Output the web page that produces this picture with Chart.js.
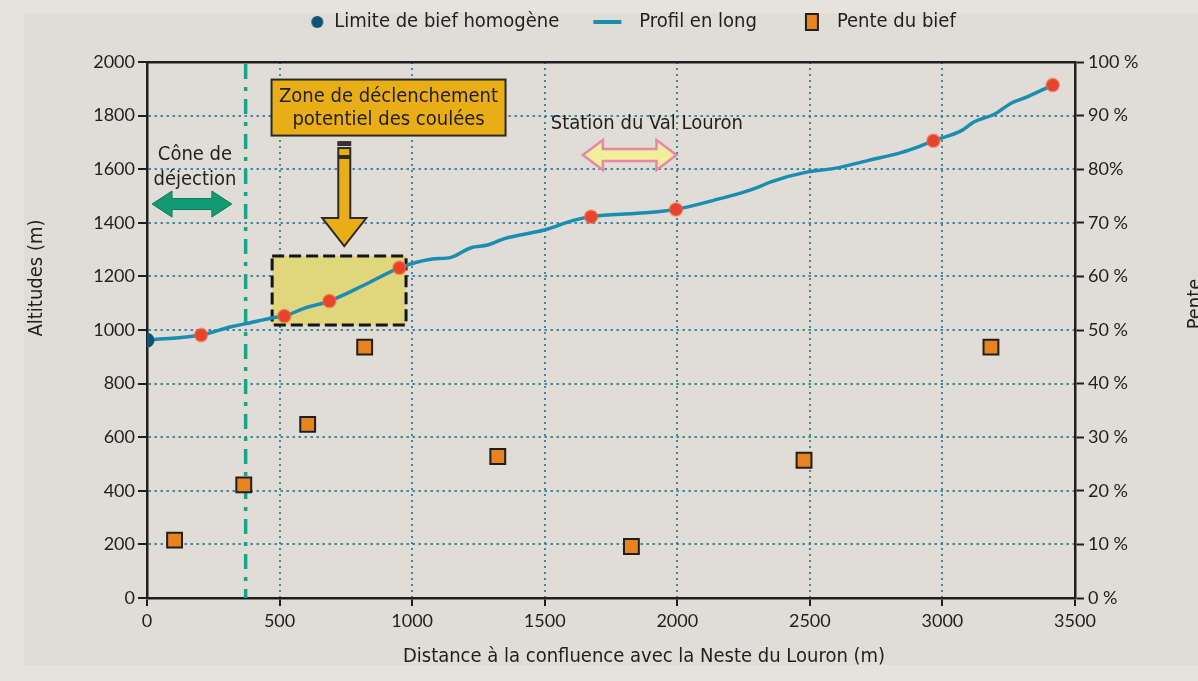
<!DOCTYPE html>
<html lang="fr">
<head>
<meta charset="utf-8">
<title>Profil en long du torrent</title>
<script src="https://cdn.jsdelivr.net/npm/chart.js@4.4.1/dist/chart.umd.min.js"></script>
<style>
  html, body { margin: 0; padding: 0; background: #e6e3dd; }
  #wrap { width: 1198px; height: 681px; }
</style>
</head>
<body>
<div id="wrap"><canvas id="profilChart" width="1198" height="681"></canvas></div>
<script>
// profil en long : distance a la confluence (m) / altitude (m)
const profilDistances = [0, 204, 317, 380, 480, 518, 593, 688, 820, 952, 1071, 1147, 1222, 1285, 1348, 1498, 1612, 1675, 1838, 1912, 1995, 2165, 2215, 2303, 2353, 2492, 2592, 2718, 2844, 2919, 2966, 3070, 3120, 3196, 3259, 3322, 3416];
const profilAltitudes = [962, 981, 1012, 1025, 1047, 1052, 1081, 1108, 1168, 1232, 1264, 1271, 1307, 1317, 1341, 1373, 1410, 1423, 1435, 1440, 1450, 1491, 1504, 1532, 1553, 1590, 1603, 1632, 1662, 1687, 1706, 1743, 1777, 1805, 1846, 1871, 1914];

// limites de bief homogene
const limiteDistances = [0, 204, 518, 688, 952, 1675, 1995, 2966, 3416];
const limiteAltitudes = [962, 981, 1052, 1108, 1232, 1423, 1450, 1706, 1914];

// pente de chaque bief (%), au milieu du bief
const penteDistances = [104, 365, 606, 821, 1323, 1827, 2478, 3183];
const pentes = [10.8, 21.1, 32.4, 46.8, 26.4, 9.6, 25.7, 46.8];

// graduations
const distanceTicks = [0, 500, 1000, 1500, 2000, 2500, 3000, 3500];
const altitudeTicks = [0, 200, 400, 600, 800, 1000, 1200, 1400, 1600, 1800, 2000];
const penteTicks = [0, 10, 20, 30, 40, 50, 60, 70, 80, 90, 100];
const penteTickLabels = ['0 %', '10 %', '20 %', '30 %', '40 %', '50 %', '60 %', '70 %', '80%', '90 %', '100 %'];

const legendLabels = ['Limite de bief homogène', 'Profil en long', 'Pente du bief'];

// reperes (dans les unites des axes)
const coneNote = { x: 181, yLines: [1653, 1560], text: ['Cône de', 'déjection'] };
const coneArrow = { x1: 19, x2: 320, y: 1470 };
const coneLimit = 372;
const zoneNote = { x: 911, y: 1830, yLines: [1869, 1784], text: ['Zone de déclenchement', 'potentiel des coulées'] };
const zoneArrow = { x: 744, yTop: 1705, yTip: 1313 };
const zoneBox = { x1: 472, x2: 977, y1: 1019, y2: 1276 };
const stationNote = { x: 1523, y: 1769, text: 'Station du Val Louron' };
const stationArrow = { x1: 1644, x2: 1997, y: 1653 };

const textFont = "'DejaVu Sans Condensed', 'Liberation Sans Narrow', sans-serif";
const tickFont = "Lato, 'Open Sans', sans-serif";
const ink = '#1f1f1f';
const gridColor = 'rgba(45, 118, 148, 0.85)';

// petites icones de legende, calees a droite de la case
function legendIcon(w, h, draw) {
  const c = document.createElement('canvas');
  c.width = w;
  c.height = h;
  draw(c.getContext('2d'));
  return c;
}
const iconDot = legendIcon(58, 14, g => {
  g.fillStyle = '#0b5675';
  g.beginPath(); g.arc(51, 7, 6, 0, Math.PI * 2); g.fill();
});
const iconLine = legendIcon(58, 6, g => {
  g.fillStyle = '#1a8db3';
  g.fillRect(22, 1, 28, 4);
});
const iconSquare = legendIcon(58, 18, g => {
  g.fillStyle = '#e8841d';
  g.fillRect(37, 1, 12, 16);
  g.strokeStyle = ink; g.lineWidth = 2;
  g.strokeRect(37, 1, 12, 16);
});
const legendIcons = [iconDot, iconLine, iconSquare];

function doubleArrow(ctx, x1, x2, y, shaftH, headH, headL) {
  ctx.beginPath();
  ctx.moveTo(x1, y);
  ctx.lineTo(x1 + headL, y - headH / 2);
  ctx.lineTo(x1 + headL, y - shaftH / 2);
  ctx.lineTo(x2 - headL, y - shaftH / 2);
  ctx.lineTo(x2 - headL, y - headH / 2);
  ctx.lineTo(x2, y);
  ctx.lineTo(x2 - headL, y + headH / 2);
  ctx.lineTo(x2 - headL, y + shaftH / 2);
  ctx.lineTo(x1 + headL, y + shaftH / 2);
  ctx.lineTo(x1 + headL, y + headH / 2);
  ctx.closePath();
}

function rotatedText(ctx, text, x, y) {
  ctx.save();
  ctx.translate(x, y);
  ctx.rotate(-Math.PI / 2);
  ctx.fillText(text, 0, 0);
  ctx.restore();
}

const decorPlugin = {
  id: 'decor',
  beforeDraw(chart) {
    const ctx = chart.ctx;
    ctx.save();
    ctx.fillStyle = '#e6e3dd';
    ctx.fillRect(0, 0, chart.width, chart.height);
    ctx.fillStyle = '#e0dcd6';
    ctx.fillRect(24, 13, chart.width - 24, 652);
    ctx.restore();
  },
  beforeDatasetsDraw(chart) {
    const { ctx, chartArea } = chart;
    const xs = chart.scales.x, ys = chart.scales.y;
    ctx.save();
    // zone encadree en tirets
    const bx1 = xs.getPixelForValue(zoneBox.x1), bx2 = xs.getPixelForValue(zoneBox.x2);
    const by1 = ys.getPixelForValue(zoneBox.y2), by2 = ys.getPixelForValue(zoneBox.y1);
    ctx.fillStyle = '#e2d67c';
    ctx.fillRect(bx1, by1, bx2 - bx1, by2 - by1);
    ctx.setLineDash([12, 5]);
    ctx.lineWidth = 3;
    ctx.strokeStyle = '#151515';
    ctx.strokeRect(bx1, by1, bx2 - bx1, by2 - by1);
    // limite du cone de dejection
    const lx = xs.getPixelForValue(coneLimit);
    ctx.setLineDash([15, 8, 4, 8]);
    ctx.lineWidth = 3.5;
    ctx.strokeStyle = '#17a58a';
    ctx.beginPath();
    ctx.moveTo(lx, chartArea.top + 2);
    ctx.lineTo(lx, chartArea.bottom);
    ctx.stroke();
    ctx.restore();
  },
  afterDatasetsDraw(chart) {
    const ctx = chart.ctx;
    const xs = chart.scales.x, ys = chart.scales.y;
    ctx.save();
    ctx.font = '20px ' + textFont;
    ctx.fillStyle = ink;
    ctx.textBaseline = 'middle';

    // cone de dejection
    ctx.textAlign = 'center';
    coneNote.text.forEach((t, i) => ctx.fillText(t, xs.getPixelForValue(coneNote.x), ys.getPixelForValue(coneNote.yLines[i])));
    doubleArrow(ctx, xs.getPixelForValue(coneArrow.x1), xs.getPixelForValue(coneArrow.x2), ys.getPixelForValue(coneArrow.y), 11, 26, 20);
    ctx.fillStyle = '#139a73';
    ctx.fill();
    ctx.strokeStyle = '#0c7c5b';
    ctx.lineWidth = 1;
    ctx.stroke();

    // cartouche zone de declenchement
    const zx = xs.getPixelForValue(zoneNote.x), zy = ys.getPixelForValue(zoneNote.y);
    ctx.fillStyle = '#e9ae16';
    ctx.fillRect(zx - 117, zy - 28, 234, 56);
    ctx.strokeStyle = '#2a2a2a';
    ctx.lineWidth = 2;
    ctx.strokeRect(zx - 117, zy - 28, 234, 56);
    ctx.fillStyle = ink;
    zoneNote.text.forEach((t, i) => ctx.fillText(t, zx, ys.getPixelForValue(zoneNote.yLines[i])));

    // fleche vers la zone
    const ax = xs.getPixelForValue(zoneArrow.x);
    const top = ys.getPixelForValue(zoneArrow.yTop), tip = ys.getPixelForValue(zoneArrow.yTip);
    ctx.fillStyle = '#333';
    ctx.fillRect(ax - 7, top, 14, 5);
    ctx.fillStyle = '#e9ae16';
    ctx.fillRect(ax - 6, top + 7, 12, 8);
    ctx.strokeRect(ax - 6, top + 7, 12, 8);
    ctx.beginPath();
    ctx.moveTo(ax - 6, top + 17);
    ctx.lineTo(ax + 6, top + 17);
    ctx.lineTo(ax + 6, tip - 28);
    ctx.lineTo(ax + 22, tip - 28);
    ctx.lineTo(ax, tip);
    ctx.lineTo(ax - 22, tip - 28);
    ctx.lineTo(ax - 6, tip - 28);
    ctx.closePath();
    ctx.fill();
    ctx.stroke();

    // station du Val Louron
    ctx.fillStyle = ink;
    ctx.textAlign = 'left';
    ctx.fillText(stationNote.text, xs.getPixelForValue(stationNote.x), ys.getPixelForValue(stationNote.y));
    doubleArrow(ctx, xs.getPixelForValue(stationArrow.x1), xs.getPixelForValue(stationArrow.x2), ys.getPixelForValue(stationArrow.y), 12, 30, 20);
    ctx.fillStyle = '#f1ee9c';
    ctx.fill();
    ctx.strokeStyle = '#e888a8';
    ctx.lineWidth = 2.5;
    ctx.stroke();

    // titres des axes
    ctx.fillStyle = ink;
    ctx.textAlign = 'center';
    ctx.fillText('Distance à la confluence avec la Neste du Louron (m)', 644, 657);
    rotatedText(ctx, 'Altitudes (m)', 37, 278);
    rotatedText(ctx, 'Pente', 1196, 304);
    ctx.restore();
  }
};

const hideEdges = (lo, hi) => c => (c.tick && (c.tick.value === lo || c.tick.value === hi)) ? 'rgba(0,0,0,0)' : gridColor;
const plainNumber = v => String(v);

new Chart(document.getElementById('profilChart'), {
  data: {
    datasets: [
      {
        type: 'scatter',
        label: legendLabels[0],
        data: limiteDistances.map((d, i) => ({ x: d, y: limiteAltitudes[i] })),
        pointBackgroundColor: limiteDistances.map((d, i) => i === 0 ? '#0b5675' : '#e8432b'),
        pointBorderColor: limiteDistances.map((d, i) => i === 0 ? '#0b5675' : 'rgba(240, 110, 70, 0.45)'),
        pointBorderWidth: 2,
        pointRadius: 6.5,
        yAxisID: 'y'
      },
      {
        type: 'line',
        label: legendLabels[1],
        data: profilDistances.map((d, i) => ({ x: d, y: profilAltitudes[i] })),
        borderColor: '#1a8db3',
        borderWidth: 3.5,
        pointRadius: 0,
        cubicInterpolationMode: 'monotone',
        yAxisID: 'y'
      },
      {
        type: 'scatter',
        label: legendLabels[2],
        data: penteDistances.map((d, i) => ({ x: d, y: pentes[i] })),
        pointStyle: 'rect',
        pointRadius: 10.5,
        backgroundColor: '#e8841d',
        borderColor: ink,
        borderWidth: 2,
        yAxisID: 'y1'
      }
    ]
  },
  options: {
    responsive: false,
    animation: false,
    events: [],
    layout: { padding: 0 },
    scales: {
      x: {
        type: 'linear',
        position: 'bottom',
        min: 0,
        max: 3500,
        afterBuildTicks: s => { s.ticks = distanceTicks.map(v => ({ value: v })); },
        afterFit: s => { s.height = 83; },
        ticks: { color: ink, padding: 4, font: { family: tickFont, size: 18 }, callback: plainNumber },
        grid: { color: hideEdges(0, 3500), lineWidth: 2, tickLength: 8, tickColor: ink, tickWidth: 2 },
        border: { color: ink, width: 2.5, dash: [2, 4] }
      },
      xTop: {
        type: 'linear',
        position: 'top',
        min: 0,
        max: 3500,
        afterFit: s => { s.height = 20; },
        ticks: { display: false },
        grid: { display: false },
        border: { color: ink, width: 2.5 }
      },
      y: {
        type: 'linear',
        position: 'left',
        min: 0,
        max: 2000,
        afterBuildTicks: s => { s.ticks = altitudeTicks.map(v => ({ value: v })); },
        afterFit: s => { s.width = 147; },
        ticks: { color: ink, padding: 3, font: { family: tickFont, size: 18 }, callback: plainNumber },
        grid: { color: hideEdges(0, 2000), lineWidth: 2, tickLength: 9, tickColor: ink, tickWidth: 2 },
        border: { color: ink, width: 2.5, dash: [2.5, 3.5] }
      },
      y1: {
        type: 'linear',
        position: 'right',
        min: 0,
        max: 100,
        afterBuildTicks: s => { s.ticks = penteTicks.map(v => ({ value: v })); },
        afterFit: s => { s.width = 123; },
        ticks: { color: ink, padding: 4, font: { family: tickFont, size: 18 }, callback: (v, i) => penteTickLabels[i] },
        grid: { drawOnChartArea: false, tickLength: 9, tickColor: ink, tickWidth: 2 },
        border: { color: ink, width: 2.5 }
      }
    },
    plugins: {
      tooltip: { enabled: false },
      legend: {
        position: 'top',
        fullSize: false,
        labels: {
          usePointStyle: true,
          pointStyleWidth: 58,
          padding: 12,
          color: ink,
          font: { family: textFont, size: 20 },
          generateLabels: () => legendLabels.map((t, i) => ({
            text: t,
            pointStyle: legendIcons[i],
            fillStyle: 'transparent',
            strokeStyle: 'transparent',
            lineWidth: 0,
            fontColor: ink,
            hidden: false,
            datasetIndex: i
          }))
        }
      }
    }
  },
  plugins: [decorPlugin]
});
</script>
</body>
</html>
